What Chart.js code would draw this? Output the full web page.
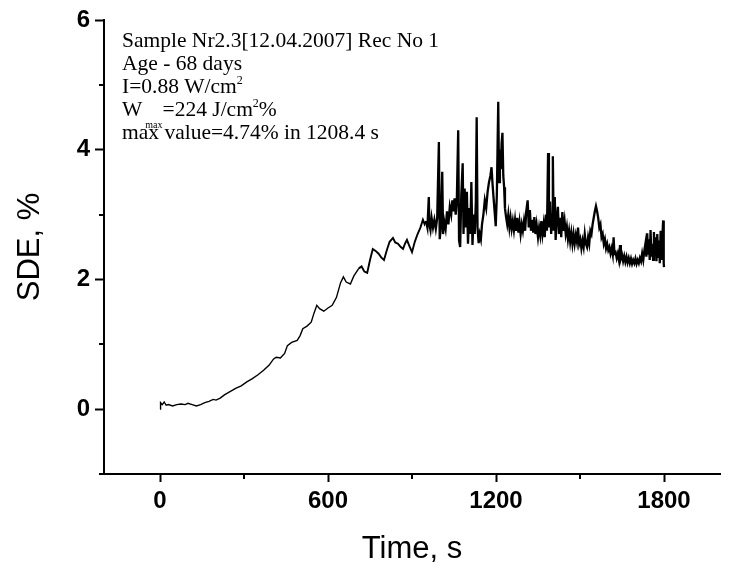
<!DOCTYPE html>
<html>
<head>
<meta charset="utf-8">
<script src="https://cdn.jsdelivr.net/npm/chart.js@4/dist/chart.umd.min.js"></script>
<style>
  html, body { margin: 0; padding: 0; background: #fff; }
  canvas { display: block; }
</style>
</head>
<body>
<canvas id="sdeChart" width="730" height="569"></canvas>
<script>
// time in seconds and SDE in %
const timeSec = [
  0, 2, 8, 15, 22, 30, 45, 60, 75, 90,
  100, 115, 130, 145, 160, 175, 190, 200, 215, 230,
  250, 270, 290, 310, 330, 350, 370, 390, 405, 415,
  430, 445, 455, 470, 490, 500, 510, 525, 540, 550,
  560, 570, 585, 600, 615, 630, 645, 655, 665, 680,
  692, 710, 720, 730, 740, 750, 760, 770, 780, 790,
  800, 810, 820, 832, 840, 850, 860, 868, 875, 882,
  890, 900, 910, 920, 930, 939, 945, 950, 955, 960,
  962, 966, 970, 975, 980, 985, 990, 996, 999, 1003,
  1008, 1011, 1015, 1020, 1025, 1030, 1035, 1040, 1044, 1048,
  1052, 1056, 1060, 1065, 1068, 1072, 1076, 1081, 1084, 1088,
  1092, 1096, 1100, 1104, 1108, 1112, 1116, 1120, 1124, 1128,
  1131, 1134, 1138, 1142, 1146, 1150, 1155, 1160, 1165, 1170,
  1175, 1180, 1184, 1188, 1192, 1196, 1199, 1203, 1208, 1211,
  1214, 1217, 1220, 1223, 1226, 1229, 1232, 1236, 1240, 1244,
  1248, 1252, 1256, 1260, 1264, 1268, 1272, 1276, 1280, 1284,
  1288, 1292, 1296, 1300, 1304, 1308, 1313, 1317, 1321, 1325,
  1329, 1333, 1337, 1341, 1345, 1350, 1354, 1358, 1362, 1366,
  1370, 1374, 1378, 1382, 1386, 1389, 1393, 1397, 1400, 1403,
  1406, 1410, 1413, 1417, 1421, 1425, 1429, 1433, 1437, 1441,
  1445, 1449, 1453, 1457, 1461, 1465, 1469, 1473, 1477, 1481,
  1485, 1489, 1493, 1497, 1501, 1505, 1509, 1513, 1517, 1521,
  1525, 1529, 1533, 1537, 1541, 1545, 1549, 1553, 1557, 1561,
  1565, 1569, 1573, 1577, 1581, 1585, 1589, 1593, 1597, 1601,
  1605, 1609, 1613, 1617, 1620, 1623, 1627, 1631, 1635, 1639,
  1643, 1646, 1650, 1654, 1658, 1662, 1666, 1670, 1674, 1678,
  1682, 1686, 1690, 1694, 1698, 1702, 1706, 1710, 1714, 1718,
  1722, 1726, 1730, 1734, 1737, 1740, 1743, 1746, 1749, 1752,
  1755, 1758, 1761, 1764, 1767, 1770, 1773, 1776, 1779, 1782,
  1785, 1788, 1791, 1794, 1797, 1799, 1800
];
const sdePct = [
  0.00, 0.10, 0.07, 0.11, 0.06, 0.07, 0.05, 0.07, 0.08, 0.07,
  0.09, 0.07, 0.05, 0.07, 0.10, 0.12, 0.15, 0.14, 0.17, 0.22,
  0.27, 0.32, 0.36, 0.42, 0.47, 0.53, 0.60, 0.68, 0.77, 0.80,
  0.79, 0.86, 0.98, 1.03, 1.06, 1.13, 1.24, 1.28, 1.34, 1.48,
  1.60, 1.55, 1.51, 1.56, 1.60, 1.72, 1.95, 2.04, 1.96, 1.93,
  2.05, 2.17, 2.20, 2.12, 2.10, 2.30, 2.47, 2.44, 2.40, 2.34,
  2.30, 2.45, 2.58, 2.64, 2.57, 2.55, 2.50, 2.47, 2.55, 2.61,
  2.52, 2.42, 2.58, 2.70, 2.80, 2.92, 2.85, 2.90, 2.80, 3.27,
  2.85, 2.76, 2.95, 2.80, 2.92, 2.78, 2.95, 4.12, 2.62, 2.80,
  3.66, 2.70, 2.90, 2.78, 3.05, 2.85, 3.12, 3.00, 3.22, 3.05,
  3.25, 3.00, 3.20, 4.30, 2.60, 2.50, 3.30, 3.79, 2.70, 3.40,
  2.80, 3.35, 2.55, 3.10, 2.70, 3.50, 2.53, 3.00, 2.70, 3.20,
  4.50, 2.80, 2.56, 2.70, 2.62, 2.85, 3.00, 3.22, 3.10, 3.35,
  3.50, 3.60, 3.73, 3.45, 3.22, 3.00, 2.82, 3.30, 4.74, 3.50,
  4.00, 3.70, 4.10, 4.26, 3.60, 3.42, 3.10, 2.96, 2.85, 3.00,
  2.80, 2.95, 2.78, 2.90, 2.76, 2.92, 2.75, 2.95, 2.72, 2.88,
  2.70, 2.85, 2.75, 2.90, 2.75, 3.05, 3.22, 2.80, 3.07, 2.75,
  2.92, 2.72, 2.96, 2.70, 2.85, 2.65, 2.80, 2.68, 2.90, 2.70,
  2.85, 2.65, 3.00, 2.75, 3.95, 2.80, 3.20, 2.70, 3.00, 3.90,
  2.75, 3.27, 2.61, 2.95, 3.12, 2.70, 2.95, 2.65, 3.04, 2.75,
  2.90, 2.70, 2.81, 2.62, 2.75, 2.58, 2.72, 2.55, 2.70, 2.55,
  2.68, 2.58, 2.80, 2.55, 2.62, 2.48, 2.60, 2.50, 2.70, 2.55,
  2.50, 2.65, 2.55, 2.75, 2.70, 2.85, 2.95, 3.05, 3.13, 3.05,
  2.95, 2.80, 2.85, 2.65, 2.70, 2.55, 2.62, 2.48, 2.55, 2.45,
  2.50, 2.40, 2.48, 2.38, 2.65, 2.40, 2.42, 2.33, 2.40, 2.30,
  2.53, 2.32, 2.38, 2.28, 2.36, 2.27, 2.35, 2.26, 2.33, 2.25,
  2.32, 2.24, 2.30, 2.25, 2.32, 2.24, 2.30, 2.25, 2.33, 2.28,
  2.40, 2.30, 2.45, 2.56, 2.35, 2.71, 2.40, 2.62, 2.30, 2.76,
  2.35, 2.55, 2.30, 2.73, 2.40, 2.65, 2.28, 2.70, 2.35, 2.60,
  2.25, 2.75, 2.30, 2.65, 2.91, 2.25, 2.19
];

const xMajorTicks = [0, 600, 1200, 1800];
const xMinorTicks = [300, 900, 1500];
const yMajorTicks = [0, 2, 4, 6];
const yMinorTicks = [-1, 1, 3, 5];

// annotation lines; each part: [text, 'n' normal | 'sup' | 'sub']
const noteLines = [
  [['Sample Nr2.3[12.04.2007] Rec No 1', 'n']],
  [['Age - 68 days', 'n']],
  [['I=0.88 W/cm', 'n'], ['2', 'sup']],
  [['W', 'n'], ['max', 'sub'], ['=224 J/cm', 'n'], ['2', 'sup'], ['%', 'n']],
  [['max value=4.74% in 1208.4 s', 'n']]
];

const minorTicks = {
  id: 'minorTicks',
  afterDraw(chart) {
    const { ctx, chartArea, scales: { x, y } } = chart;
    ctx.save();
    ctx.strokeStyle = '#000';
    ctx.lineWidth = 2;
    ctx.beginPath();
    xMinorTicks.forEach(v => {
      const px = Math.round(x.getPixelForValue(v));
      ctx.moveTo(px, chartArea.bottom);
      ctx.lineTo(px, chartArea.bottom + 5);
    });
    yMinorTicks.forEach(v => {
      const py = Math.round(y.getPixelForValue(v));
      ctx.moveTo(chartArea.left - 5, py);
      ctx.lineTo(chartArea.left, py);
    });
    // the x axis line runs a little past the y axis on the left
    ctx.moveTo(chartArea.left - 4, chartArea.bottom);
    ctx.lineTo(chartArea.left, chartArea.bottom);
    ctx.stroke();
    ctx.restore();
  }
};

const notes = {
  id: 'notes',
  afterDraw(chart) {
    const ctx = chart.ctx;
    const serif = '"Times New Roman", "Liberation Serif", serif';
    ctx.save();
    ctx.fillStyle = '#000';
    ctx.textBaseline = 'alphabetic';
    ctx.textAlign = 'left';
    noteLines.forEach((parts, i) => {
      let px = 122;
      const base = 47 + i * 23;
      parts.forEach(([txt, kind]) => {
        let dy = 0;
        if (kind === 'sup') { ctx.font = '12px ' + serif; dy = -9; }
        else if (kind === 'sub') { ctx.font = '10px ' + serif; dy = 12; px += 3; }
        else { ctx.font = '21.5px ' + serif; }
        ctx.fillText(txt, px, base + dy);
        px += ctx.measureText(txt).width;
      });
    });
    ctx.restore();
  }
};

const axisFont = { family: 'Arial, "Liberation Sans", sans-serif' };

// the recording gets noisier (thicker trace) later on
const traceWidth = ctx => {
  const t = ctx.p0.parsed.x;
  if (t < 700) return 1.4;
  if (t < 950) return 1.9;
  return 2.3;
};

new Chart(document.getElementById('sdeChart'), {
  type: 'line',
  data: {
    datasets: [{
      data: timeSec.map((t, i) => ({ x: t, y: sdePct[i] })),
      borderColor: '#000',
      borderWidth: 1.7,
      segment: { borderWidth: traceWidth },
      pointRadius: 0,
      tension: 0,
      fill: false
    }]
  },
  options: {
    responsive: false,
    animation: false,
    devicePixelRatio: 1,
    layout: { padding: { top: 20, right: 10, left: 0, bottom: 0 } },
    plugins: { legend: { display: false }, tooltip: { enabled: false } },
    scales: {
      x: {
        type: 'linear',
        min: -200,
        max: 2000,
        afterBuildTicks: s => { s.ticks = xMajorTicks.map(v => ({ value: v })); },
        afterFit: s => { s.height = 95; },
        grid: { drawOnChartArea: false, tickLength: 8, tickWidth: 2, tickColor: '#000' },
        border: { display: true, color: '#000', width: 2 },
        ticks: {
          color: '#000',
          padding: 5,
          maxRotation: 0,
          callback: v => String(v),
          font: { ...axisFont, size: 24, weight: 'bold' }
        },
        title: {
          display: true,
          text: 'Time, s',
          color: '#000',
          padding: { top: 0, bottom: 1 },
          font: { ...axisFont, size: 31 }
        }
      },
      y: {
        type: 'linear',
        min: -1,
        max: 6,
        afterBuildTicks: s => { s.ticks = yMajorTicks.map(v => ({ value: v })); },
        afterFit: s => { s.width = 104; },
        grid: { drawOnChartArea: false, tickLength: 9, tickWidth: 2, tickColor: '#000' },
        border: { display: true, color: '#000', width: 2 },
        ticks: {
          color: '#000',
          padding: 5,
          callback: v => String(v),
          font: { ...axisFont, size: 24, weight: 'bold' }
        },
        title: {
          display: true,
          text: 'SDE, %',
          color: '#000',
          padding: { top: 12, bottom: 0 },
          font: { ...axisFont, size: 31 }
        }
      }
    }
  },
  plugins: [minorTicks, notes]
});
</script>
</body>
</html>
